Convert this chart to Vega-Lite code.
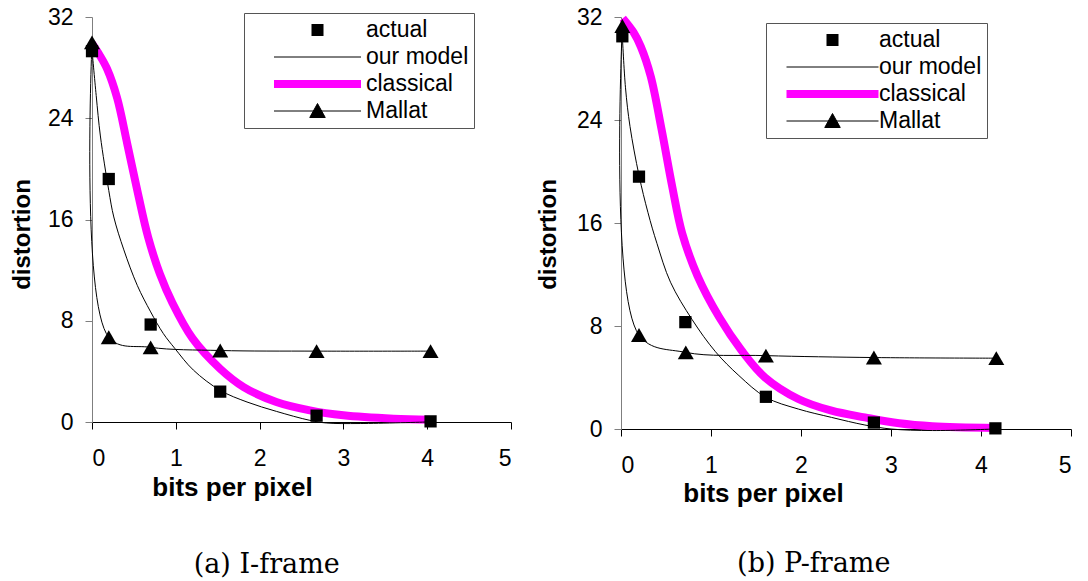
{
  "$schema": "https://vega.github.io/schema/vega-lite/v6.json",
  "background": "white",
  "padding": {"left": 10, "top": 2, "right": 0, "bottom": 0},
  "spacing": 24,
  "resolve": {"scale": {"color": "independent"}, "legend": {"color": "independent"}},
  "config": {
    "font": "Liberation Sans",
    "view": {"stroke": null},
    "axis": {
      "grid": false,
      "labelFont": "Liberation Sans",
      "labelFontSize": 23,
      "labelColor": "black",
      "titleFont": "Liberation Sans",
      "titleFontSize": 24,
      "titleFontWeight": "bold",
      "titleColor": "black",
      "tickSize": 7,
      "domainWidth": 1,
      "tickWidth": 1
    },
    "axisX": {"domainColor": "black", "tickColor": "black", "labelPadding": 18, "titleBaseline": "middle", "titleFontSize": 26},
    "axisY": {"domainColor": "#7f7f7f", "tickColor": "#7f7f7f", "labelPadding": 12, "titleBaseline": "middle"},
    "legend": {
      "orient": "none",
      "title": null,
      "labelFont": "Liberation Sans",
      "labelFontSize": 23,
      "labelColor": "black",
      "strokeColor": "#555555",
      "fillColor": "white",
      "padding": 5,
      "rowPadding": 3,
      "clipHeight": 24,
      "symbolSize": 100
    },
    "title": {"font": "DejaVu Serif", "fontSize": 27, "fontWeight": "normal", "color": "black", "orient": "bottom", "frame": "bounds", "anchor": "middle"}
  },
  "datasets": {
    "iframe": [
      {"series": "actual", "bpp": 0.0, "dist": 29.3},
      {"series": "actual", "bpp": 0.2, "dist": 19.2},
      {"series": "actual", "bpp": 0.7, "dist": 7.7},
      {"series": "actual", "bpp": 1.53, "dist": 2.4},
      {"series": "actual", "bpp": 2.68, "dist": 0.5},
      {"series": "actual", "bpp": 4.04, "dist": 0.05},
      {"series": "Mallat", "bpp": 0.0, "dist": 30.0},
      {"series": "Mallat", "bpp": 0.2, "dist": 6.7},
      {"series": "Mallat", "bpp": 0.7, "dist": 5.9},
      {"series": "Mallat", "bpp": 1.53, "dist": 5.65},
      {"series": "Mallat", "bpp": 2.68, "dist": 5.6},
      {"series": "Mallat", "bpp": 4.04, "dist": 5.6},
      {"series": "our model", "bpp": 0.0, "dist": 29.4},
      {"series": "our model", "bpp": 0.05, "dist": 25.8},
      {"series": "our model", "bpp": 0.1, "dist": 22.6},
      {"series": "our model", "bpp": 0.2, "dist": 18.3},
      {"series": "our model", "bpp": 0.26, "dist": 16.2},
      {"series": "our model", "bpp": 0.38, "dist": 13.6},
      {"series": "our model", "bpp": 0.54, "dist": 10.8},
      {"series": "our model", "bpp": 0.7, "dist": 8.7},
      {"series": "our model", "bpp": 0.85, "dist": 7.0},
      {"series": "our model", "bpp": 0.99, "dist": 5.8},
      {"series": "our model", "bpp": 1.21, "dist": 4.1},
      {"series": "our model", "bpp": 1.53, "dist": 2.5},
      {"series": "our model", "bpp": 1.85, "dist": 1.58},
      {"series": "our model", "bpp": 2.2, "dist": 0.84},
      {"series": "our model", "bpp": 2.6, "dist": 0.13},
      {"series": "our model", "bpp": 2.8, "dist": -0.08},
      {"series": "our model", "bpp": 3.2, "dist": -0.12},
      {"series": "our model", "bpp": 4.0, "dist": 0.0},
      {"series": "classical", "bpp": 0.0, "dist": 29.9},
      {"series": "classical", "bpp": 0.09, "dist": 29.0},
      {"series": "classical", "bpp": 0.18, "dist": 27.9},
      {"series": "classical", "bpp": 0.3, "dist": 25.6},
      {"series": "classical", "bpp": 0.42, "dist": 22.0},
      {"series": "classical", "bpp": 0.55, "dist": 18.0},
      {"series": "classical", "bpp": 0.67, "dist": 14.6},
      {"series": "classical", "bpp": 0.81, "dist": 11.7},
      {"series": "classical", "bpp": 0.96, "dist": 9.4},
      {"series": "classical", "bpp": 1.2, "dist": 6.6},
      {"series": "classical", "bpp": 1.53, "dist": 4.2},
      {"series": "classical", "bpp": 1.81, "dist": 2.76},
      {"series": "classical", "bpp": 2.2, "dist": 1.58},
      {"series": "classical", "bpp": 2.6, "dist": 0.92},
      {"series": "classical", "bpp": 3.0, "dist": 0.53},
      {"series": "classical", "bpp": 3.6, "dist": 0.26},
      {"series": "classical", "bpp": 4.03, "dist": 0.18}
    ],
    "pframe": [
      {"series": "actual", "bpp": 0.015, "dist": 30.5},
      {"series": "actual", "bpp": 0.2, "dist": 19.6},
      {"series": "actual", "bpp": 0.715, "dist": 8.3},
      {"series": "actual", "bpp": 1.61, "dist": 2.5},
      {"series": "actual", "bpp": 2.81, "dist": 0.5},
      {"series": "actual", "bpp": 4.16, "dist": 0.05},
      {"series": "Mallat", "bpp": 0.015, "dist": 31.3},
      {"series": "Mallat", "bpp": 0.2, "dist": 7.3},
      {"series": "Mallat", "bpp": 0.72, "dist": 5.95},
      {"series": "Mallat", "bpp": 1.61, "dist": 5.7},
      {"series": "Mallat", "bpp": 2.81, "dist": 5.55},
      {"series": "Mallat", "bpp": 4.17, "dist": 5.5},
      {"series": "our model", "bpp": 0.015, "dist": 30.5},
      {"series": "our model", "bpp": 0.05, "dist": 26.5},
      {"series": "our model", "bpp": 0.1, "dist": 23.5},
      {"series": "our model", "bpp": 0.2, "dist": 19.7},
      {"series": "our model", "bpp": 0.3, "dist": 16.8},
      {"series": "our model", "bpp": 0.4, "dist": 14.4},
      {"series": "our model", "bpp": 0.55, "dist": 11.4},
      {"series": "our model", "bpp": 0.79, "dist": 8.5},
      {"series": "our model", "bpp": 1.05, "dist": 6.0},
      {"series": "our model", "bpp": 1.31, "dist": 4.15},
      {"series": "our model", "bpp": 1.61, "dist": 2.46},
      {"series": "our model", "bpp": 1.97, "dist": 1.55},
      {"series": "our model", "bpp": 2.34, "dist": 0.9},
      {"series": "our model", "bpp": 2.71, "dist": 0.31},
      {"series": "our model", "bpp": 3.0, "dist": 0.0},
      {"series": "our model", "bpp": 3.46, "dist": -0.12},
      {"series": "our model", "bpp": 4.16, "dist": 0.0},
      {"series": "classical", "bpp": 0.02, "dist": 31.9},
      {"series": "classical", "bpp": 0.14, "dist": 30.8},
      {"series": "classical", "bpp": 0.22, "dist": 29.7},
      {"series": "classical", "bpp": 0.33, "dist": 27.4},
      {"series": "classical", "bpp": 0.45, "dist": 23.3},
      {"series": "classical", "bpp": 0.57, "dist": 18.8},
      {"series": "classical", "bpp": 0.68, "dist": 15.2},
      {"series": "classical", "bpp": 0.85, "dist": 11.9},
      {"series": "classical", "bpp": 1.09, "dist": 8.7},
      {"series": "classical", "bpp": 1.34, "dist": 6.1},
      {"series": "classical", "bpp": 1.6, "dist": 4.0},
      {"series": "classical", "bpp": 1.97, "dist": 2.33},
      {"series": "classical", "bpp": 2.34, "dist": 1.42},
      {"series": "classical", "bpp": 2.71, "dist": 0.9},
      {"series": "classical", "bpp": 3.09, "dist": 0.44},
      {"series": "classical", "bpp": 3.46, "dist": 0.21},
      {"series": "classical", "bpp": 4.16, "dist": 0.08}
    ]
  },
  "hconcat": [
    {
      "title": {"text": "(a) I-frame", "dx": 6, "offset": 52},
      "width": 419,
      "height": 405,
      "data": {"name": "iframe"},
      "encoding": {
        "x": {"field": "bpp", "type": "quantitative", "scale": {"domain": [0, 5], "nice": false, "zero": false},
          "axis": {"values": [0, 1, 2, 3, 4, 5], "format": "d", "title": "bits per pixel", "titleX": 140, "titleY": 65}},
        "y": {"field": "dist", "type": "quantitative", "scale": {"domain": [0, 32], "nice": false, "zero": false},
          "axis": {"values": [0, 8, 16, 24, 32], "format": "d", "title": "distortion", "titleX": -70, "titleY": 217}},
        "color": {"field": "series", "type": "nominal",
          "scale": {"domain": ["actual", "our model", "classical", "Mallat"], "range": ["black", "black", "#ff00ff", "black"]},
          "legend": {
            "legendX": 152, "legendY": -4,
            "symbolOffset": 57, "labelOffset": 37,
            "encode": {"symbols": {"update": {
              "shape": {"signal": "datum.value === 'actual' ? 'M-1.2,-1.2H1.2V1.2H-1.2Z' : datum.value === 'Mallat' ? 'M-8.7,0H8.7M-1.55,1.3L0,-1.5L1.55,1.3Z' : 'M-8.7,0H8.7'"},
              "size": {"value": 100},
              "strokeWidth": {"signal": "datum.value === 'classical' ? 8 : datum.value === 'actual' ? 0 : 1"},
              "stroke": {"signal": "datum.value === 'classical' ? '#ff00ff' : 'black'"},
              "fill": {"value": "black"},
              "strokeCap": {"value": "butt"},
              "opacity": {"value": 1}
            }}}
          }}
      },
      "layer": [
        {"transform": [{"filter": "datum.series === 'classical'"}], "mark": {"type": "line", "strokeWidth": 8, "interpolate": "catmull-rom"}},
        {"transform": [{"filter": "datum.series === 'our model'"}], "mark": {"type": "line", "strokeWidth": 1, "interpolate": "catmull-rom"}},
        {"transform": [{"filter": "datum.series === 'Mallat'"}], "mark": {"type": "line", "strokeWidth": 1, "interpolate": "catmull-rom"}},
        {"transform": [{"filter": "datum.series === 'actual'"}], "mark": {"type": "point", "shape": "square", "filled": true, "size": 150, "opacity": 1}},
        {"transform": [{"filter": "datum.series === 'Mallat'"}], "mark": {"type": "point", "shape": "triangle-up", "filled": true, "size": 256, "opacity": 1}}
      ]
    },
    {
      "title": {"text": "(b) P-frame", "dx": 10, "offset": 45},
      "width": 450,
      "height": 412,
      "data": {"name": "pframe"},
      "encoding": {
        "x": {"field": "bpp", "type": "quantitative", "scale": {"domain": [0, 5], "nice": false, "zero": false},
          "axis": {"values": [0, 1, 2, 3, 4, 5], "format": "d", "title": "bits per pixel", "titleX": 142, "titleY": 64}},
        "y": {"field": "dist", "type": "quantitative", "scale": {"domain": [0, 32], "nice": false, "zero": false},
          "axis": {"values": [0, 8, 16, 24, 32], "format": "d", "title": "distortion", "titleX": -73, "titleY": 217}},
        "color": {"field": "series", "type": "nominal",
          "scale": {"domain": ["actual", "our model", "classical", "Mallat"], "range": ["black", "black", "#ff00ff", "black"]},
          "legend": {
            "legendX": 145, "legendY": 6,
            "symbolOffset": 50, "labelOffset": 35,
            "encode": {"symbols": {"update": {
              "shape": {"signal": "datum.value === 'actual' ? 'M-1.2,-1.2H1.2V1.2H-1.2Z' : datum.value === 'Mallat' ? 'M-9.2,0H9.2M-1.55,1.3L0,-1.5L1.55,1.3Z' : 'M-9.2,0H9.2'"},
              "size": {"value": 100},
              "strokeWidth": {"signal": "datum.value === 'classical' ? 8 : datum.value === 'actual' ? 0 : 1"},
              "stroke": {"signal": "datum.value === 'classical' ? '#ff00ff' : 'black'"},
              "fill": {"value": "black"},
              "strokeCap": {"value": "butt"},
              "opacity": {"value": 1}
            }}}
          }}
      },
      "layer": [
        {"transform": [{"filter": "datum.series === 'classical'"}], "mark": {"type": "line", "strokeWidth": 8, "interpolate": "catmull-rom"}},
        {"transform": [{"filter": "datum.series === 'our model'"}], "mark": {"type": "line", "strokeWidth": 1, "interpolate": "catmull-rom"}},
        {"transform": [{"filter": "datum.series === 'Mallat'"}], "mark": {"type": "line", "strokeWidth": 1, "interpolate": "catmull-rom"}},
        {"transform": [{"filter": "datum.series === 'actual'"}], "mark": {"type": "point", "shape": "square", "filled": true, "size": 150, "opacity": 1}},
        {"transform": [{"filter": "datum.series === 'Mallat'"}], "mark": {"type": "point", "shape": "triangle-up", "filled": true, "size": 256, "opacity": 1}}
      ]
    }
  ]
}
